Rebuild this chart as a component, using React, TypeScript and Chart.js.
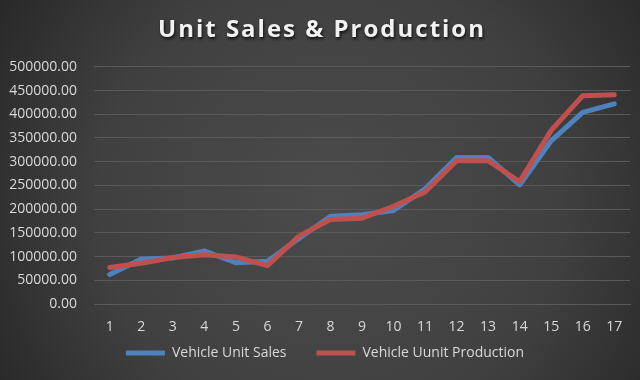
import React, { useEffect, useRef } from "react";
import { Chart, registerables } from "chart.js";

Chart.register(...registerables);

const categories = ["1", "2", "3", "4", "5", "6", "7", "8", "9", "10", "11", "12", "13", "14", "15", "16", "17"];
const unitSales = [62000, 95000, 97000, 112000, 87000, 90000, 138000, 185000, 188000, 197000, 243000, 309000, 309000, 251000, 344000, 404000, 422000];
const unitProduction = [77000, 86000, 98000, 104000, 99000, 81000, 143000, 178000, 181000, 206000, 236000, 302000, 302000, 258000, 366000, 439000, 441000];
const titleText = "Unit Sales & Production";
const seriesNames = ["Vehicle Unit Sales", "Vehicle Uunit Production"];

const patchDraw = (chart: any, box: any, setup: (ctx: CanvasRenderingContext2D) => void) => {
  if (!box || box.__patched) return;
  const orig = box.draw.bind(box);
  box.draw = (...args: any[]) => {
    const ctx = chart.ctx;
    ctx.save();
    setup(ctx);
    orig(...args);
    ctx.restore();
  };
  box.__patched = true;
};

const bgPlugin = {
  id: "bgPlugin",
  afterInit(chart: any) {
    patchDraw(chart, chart.titleBlock, (ctx: any) => {
      ctx.translate(7, 0);
      ctx.letterSpacing = "2px";
      ctx.shadowColor = "rgba(0,0,0,0.75)";
      ctx.shadowBlur = 3;
      ctx.shadowOffsetX = 1;
      ctx.shadowOffsetY = 2;
    });
    patchDraw(chart, chart.legend, (ctx: any) => {
      ctx.translate(10, 0);
    });
  },
  beforeDraw(chart: any) {
    const { ctx, width, height } = chart;
    ctx.save();
    const g = ctx.createRadialGradient(330, 200, 0, 330, 200, 420);
    g.addColorStop(0, "#4b4b4b");
    g.addColorStop(0.55, "#404040");
    g.addColorStop(1, "#232323");
    ctx.fillStyle = g;
    ctx.fillRect(0, 0, width, height);
    ctx.restore();
  },
};

export default function App() {
  const ref = useRef<HTMLCanvasElement>(null);
  useEffect(() => {
    document.body.style.margin = "0";
    const chart = new Chart(ref.current!, {
      type: "line",
      data: {
        labels: categories,
        datasets: [
          {
            label: seriesNames[0],
            data: unitSales,
            borderColor: "#4f81bd",
            backgroundColor: "#4f81bd",
            borderWidth: 5,
            pointRadius: 0,
            tension: 0,
            borderCapStyle: "round",
            borderJoinStyle: "round",
            order: 1,
          },
          {
            label: seriesNames[1],
            data: unitProduction,
            borderColor: "#c0504d",
            backgroundColor: "#c0504d",
            borderWidth: 5,
            pointRadius: 0,
            tension: 0,
            borderCapStyle: "round",
            borderJoinStyle: "round",
            order: 0,
          },
        ],
      },
      options: {
        animation: false,
        responsive: false,
        layout: { padding: { left: 0, right: 10, top: 8, bottom: 10 } },
        plugins: {
          title: {
            display: true,
            text: titleText,
            color: "#f2f2f2",
            font: { family: "'Open Sans'", size: 24, weight: "bold" },
            padding: { top: 8, bottom: 22 },
          },
          legend: {
            position: "bottom",
            labels: {
              color: "#d9d9d9",
              font: { family: "'Open Sans'", size: 14 },
              boxWidth: 39,
              boxHeight: 5,
              padding: 30,
              sort: (a: any, b: any) => a.datasetIndex - b.datasetIndex,
              generateLabels(chart: any) {
                const items = Chart.defaults.plugins.legend.labels.generateLabels(chart);
                items.forEach((it: any) => {
                  it.lineWidth = 0;
                  it.fillStyle = it.strokeStyle;
                });
                return items;
              },
            },
          },
          tooltip: { enabled: false },
        },
        scales: {
          x: {
            offset: true,
            grid: { display: false, drawTicks: false },
            border: { display: true, color: "#5a5a5a" },
            ticks: {
              color: "#d9d9d9",
              font: { family: "'Open Sans'", size: 14 },
              padding: 15,
              maxRotation: 0,
            },
            afterFit(scale: any) {
              scale.height = 12;
              scale._computeLabelArea = () => undefined;
            },
          },
          y: {
            min: 0,
            max: 500000,
            grid: { color: "#5a5a5a", lineWidth: 1, drawTicks: false },
            border: { display: false },
            ticks: {
              stepSize: 50000,
              color: "#d9d9d9",
              font: { family: "'Open Sans'", size: 14 },
              padding: 17,
              callback: (v: any) => Number(v).toFixed(2),
            },
            afterFit(scale: any) {
              scale.width = 94;
            },
          },
        },
      },
      plugins: [bgPlugin],
    });
    return () => chart.destroy();
  }, []);
  return (
    <div style={{ position: "fixed", left: 0, top: 0, width: 640, height: 380 }}>
      <canvas ref={ref} width={640} height={380} style={{ width: 640, height: 380 }} />
    </div>
  );
}
